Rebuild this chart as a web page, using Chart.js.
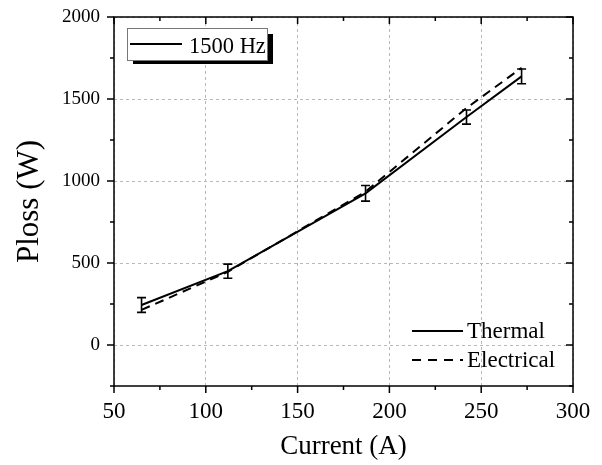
<!DOCTYPE html>
<html lang="en">
<head>
    <meta charset="UTF-8">
    <title>Ploss vs Current</title>
    <style>
        body {
            margin: 0;
            padding: 0;
            background-color: #fff;
        }
    </style>
</head>
<body>
    <canvas id="lossChart" width="602" height="465"></canvas>

    <script src="https://cdn.jsdelivr.net/npm/chart.js"></script>

    <script>
        // Values
        const current = [65, 112, 187, 242, 272];
        const thermal = [244, 450, 925, 1390, 1638];
        const thermalErr = [45, 43, 48, 43, 45];
        const electrical = [214, 446, 935, 1445, 1690];

        // Axis ticks (major + minor)
        const xTicks = [50, 100, 150, 200, 250, 300];
        const xMinor = [75, 125, 175, 225, 275];
        const yTicks = [0, 500, 1000, 1500, 2000];
        const yMinor = [-250, 250, 750, 1250, 1750];

        const SERIF = '"Liberation Serif", "Times New Roman", serif';

        // Draws error bars, the boxed frame with inward/outward ticks and both legends
        const decor = {
            id: 'decor',
            afterDatasetsDraw(chart) {
                const { ctx, scales: { x, y } } = chart;
                ctx.save();
                ctx.strokeStyle = '#000';
                ctx.lineWidth = 1.6;
                ctx.beginPath();
                current.forEach((c, i) => {
                    const px = x.getPixelForValue(c);
                    const top = y.getPixelForValue(thermal[i] + thermalErr[i]);
                    const bot = y.getPixelForValue(thermal[i] - thermalErr[i]);
                    ctx.moveTo(px, top); ctx.lineTo(px, bot);
                    ctx.moveTo(px - 4.5, top); ctx.lineTo(px + 4.5, top);
                    ctx.moveTo(px - 4.5, bot); ctx.lineTo(px + 4.5, bot);
                });
                ctx.stroke();
                ctx.restore();
            },
            afterDraw(chart) {
                const { ctx, chartArea: a, scales: { x, y } } = chart;
                ctx.save();
                ctx.strokeStyle = '#000';
                ctx.lineWidth = 1.5;
                ctx.strokeRect(a.left, a.top, a.right - a.left, a.bottom - a.top);

                ctx.beginPath();
                const seg = (x1, y1, x2, y2) => { ctx.moveTo(x1, y1); ctx.lineTo(x2, y2); };
                xTicks.forEach(v => {
                    const p = x.getPixelForValue(v);
                    seg(p, a.bottom, p, a.bottom + 7);
                    seg(p, a.top, p, a.top + 7);
                });
                xMinor.forEach(v => {
                    const p = x.getPixelForValue(v);
                    seg(p, a.bottom, p, a.bottom + 4);
                    seg(p, a.top, p, a.top + 4);
                });
                yTicks.forEach(v => {
                    const p = y.getPixelForValue(v);
                    seg(a.left - 7, p, a.left, p);
                    seg(a.right - 7, p, a.right, p);
                });
                yMinor.forEach(v => {
                    const p = y.getPixelForValue(v);
                    seg(a.left - 4, p, a.left, p);
                    seg(a.right - 4, p, a.right, p);
                });
                ctx.stroke();

                // "1500 Hz" box with drop shadow
                ctx.fillStyle = '#000';
                ctx.fillRect(133, 34, 140, 30);
                ctx.fillStyle = '#fff';
                ctx.fillRect(127, 28, 140, 32);
                ctx.strokeStyle = '#777';
                ctx.lineWidth = 1;
                ctx.strokeRect(127.5, 28.5, 140, 32);

                ctx.strokeStyle = '#000';
                ctx.lineWidth = 2;
                ctx.beginPath();
                seg(130, 44, 182, 44);
                ctx.stroke();

                ctx.fillStyle = '#000';
                ctx.font = '22.5px ' + SERIF;
                ctx.textBaseline = 'alphabetic';
                ctx.fillText('1500 Hz', 189, 53);

                // series legend
                ctx.beginPath();
                seg(412, 331, 463, 331);
                ctx.stroke();
                ctx.setLineDash([9, 7]);
                ctx.beginPath();
                seg(412, 360, 463, 360);
                ctx.stroke();
                ctx.setLineDash([]);
                ctx.font = '23px ' + SERIF;
                ctx.fillText('Thermal', 467, 338);
                ctx.fillText('Electrical', 467, 367);
                ctx.restore();
            }
        };

        const ctx = document.getElementById('lossChart').getContext('2d');
        new Chart(ctx, {
            type: 'line',
            data: {
                datasets: [
                    {
                        label: 'Thermal',
                        data: current.map((c, i) => ({ x: c, y: thermal[i] })),
                        borderColor: '#000',
                        borderWidth: 2,
                        pointRadius: 0,
                        tension: 0,
                        fill: false
                    },
                    {
                        label: 'Electrical',
                        data: current.map((c, i) => ({ x: c, y: electrical[i] })),
                        borderColor: '#000',
                        borderWidth: 2,
                        borderDash: [9, 6],
                        pointRadius: 0,
                        tension: 0,
                        fill: false
                    }
                ]
            },
            options: {
                responsive: false,
                devicePixelRatio: 1,
                animation: false,
                events: [],
                layout: { padding: { top: 17, right: 29, left: 0, bottom: 0 } },
                plugins: {
                    legend: { display: false },
                    tooltip: { enabled: false }
                },
                scales: {
                    x: {
                        type: 'linear',
                        min: 50,
                        max: 300,
                        afterBuildTicks: s => { s.ticks = xTicks.map(v => ({ value: v })); },
                        afterFit: s => { s.height = 79; s.paddingLeft = 0; s.paddingRight = 0; },
                        grid: { color: '#b8b8b8', lineWidth: 1, drawTicks: false },
                        border: { display: false, dash: [3, 3] },
                        ticks: {
                            color: '#000',
                            padding: 12,
                            font: { family: SERIF, size: 23 },
                            callback: v => String(v)
                        },
                        title: {
                            display: true,
                            text: 'Current (A)',
                            color: '#000',
                            font: { family: SERIF, size: 27 },
                            padding: { top: 0, bottom: 2 }
                        }
                    },
                    y: {
                        min: -250,
                        max: 2000,
                        afterBuildTicks: s => { s.ticks = yTicks.map(v => ({ value: v })); },
                        afterFit: s => { s.width = 114; s.paddingTop = 0; s.paddingBottom = 0; },
                        grid: { color: '#b8b8b8', lineWidth: 1, drawTicks: false },
                        border: { display: false, dash: [3, 3] },
                        ticks: {
                            color: '#000',
                            padding: 14,
                            font: { family: SERIF, size: 19 },
                            callback: v => String(v)
                        },
                        title: {
                            display: true,
                            text: 'Ploss (W)',
                            color: '#000',
                            font: { family: SERIF, size: 31 },
                            padding: { top: 11, bottom: 0 }
                        }
                    }
                }
            },
            plugins: [decor]
        });
    </script>
</body>
</html>
